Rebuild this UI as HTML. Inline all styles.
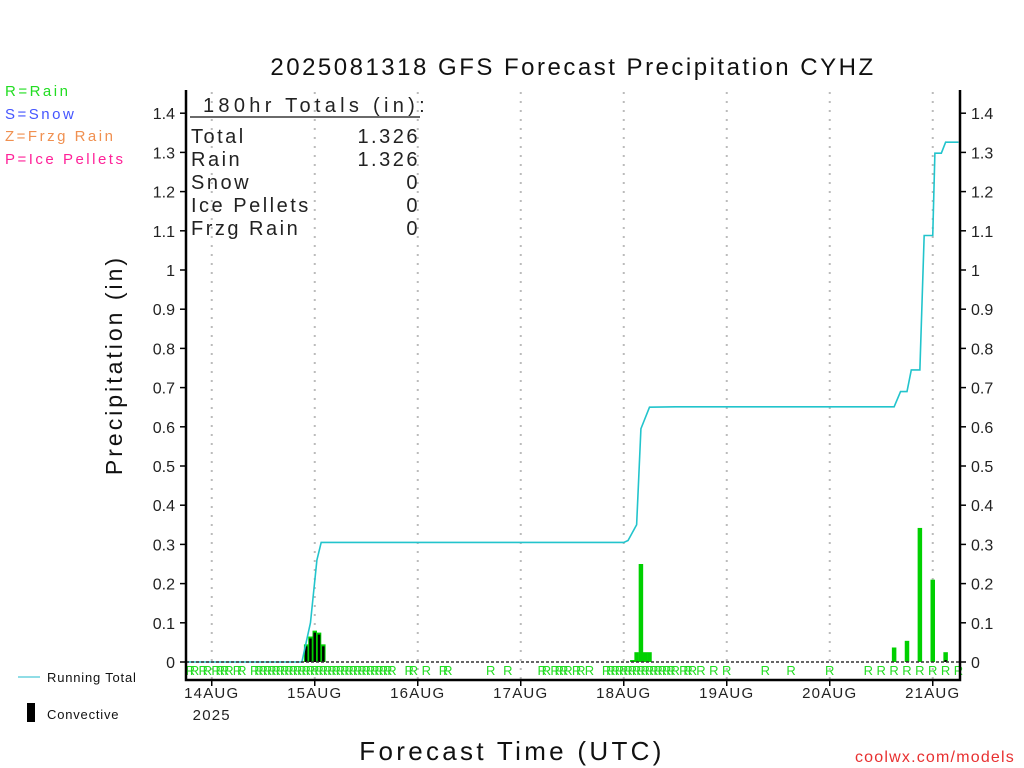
<!DOCTYPE html>
<html><head><meta charset="utf-8"><style>
body{margin:0;background:#fff;width:1024px;height:768px;overflow:hidden}
svg{display:block;font-family:"Liberation Sans",sans-serif}
</style></head><body>
<svg id="c" width="1024" height="768">
<text x="573" y="75" text-anchor="middle" font-size="24" letter-spacing="2.5" fill="#111">2025081318 GFS Forecast Precipitation CYHZ</text>
<g font-size="15" letter-spacing="2.5">
<text x="5" y="96" fill="#22dd22">R=Rain</text>
<text x="5" y="119" fill="#4455ff">S=Snow</text>
<text x="5" y="141" fill="#f09050">Z=Frzg Rain</text>
<text x="5" y="164" fill="#ff2299">P=Ice Pellets</text>
</g>
<text transform="translate(122,365) rotate(-90)" text-anchor="middle" font-size="23" letter-spacing="3" fill="#111">Precipitation (in)</text>
<text x="512" y="760" text-anchor="middle" font-size="26" letter-spacing="3.3" fill="#111">Forecast Time (UTC)</text>
<text x="1015" y="762" text-anchor="end" font-size="16" letter-spacing="1.2" fill="#e83030">coolwx.com/models</text>
<line x1="18" y1="677" x2="40" y2="677" stroke="#22bbcc" stroke-width="1"/>
<text x="47" y="682" font-size="13" letter-spacing="0.8" fill="#111">Running Total</text>
<rect x="27" y="703" width="8" height="19" fill="#000"/>
<text x="47" y="719" font-size="13" letter-spacing="0.8" fill="#111">Convective</text>
<g id="grid"></g><g id="bars"></g><g id="line"></g><g id="rlab"></g><g id="axes"></g>
<g font-size="20" letter-spacing="2.5" fill="#222">
<text x="203" y="112" letter-spacing="4.3">180hr Totals (in):</text>
<line x1="190" y1="117" x2="420" y2="117" stroke="#111" stroke-width="1.3"/>
<text x="191" y="143">Total</text><text x="420" y="143" text-anchor="end">1.326</text>
<text x="191" y="166">Rain</text><text x="420" y="166" text-anchor="end">1.326</text>
<text x="191" y="189">Snow</text><text x="420" y="189" text-anchor="end">0</text>
<text x="191" y="212">Ice Pellets</text><text x="420" y="212" text-anchor="end">0</text>
<text x="191" y="235">Frzg Rain</text><text x="420" y="235" text-anchor="end">0</text>
</g>
</svg>
<script>
const dayLabels=["14AUG","15AUG","16AUG","17AUG","18AUG","19AUG","20AUG","21AUG"];
const yTicks=[0,0.1,0.2,0.3,0.4,0.5,0.6,0.7,0.8,0.9,1,1.1,1.2,1.3,1.4];
const barHours=[28,29,30,31,32,104,105,106,107,108,165,168,171,174,177];
const barValues=[0.045,0.065,0.08,0.075,0.045,0.005,0.025,0.25,0.025,0.025,0.037,0.054,0.342,0.21,0.025];
const convValues=[0.04,0.06,0.075,0.07,0.04,0,0,0,0,0,0,0.002,0,0,0.005];
const totHours=[0,27,29,30.5,31.5,36,102,103,104,105,106,108,114,165,166.5,168,169,171,172,174,174.5,176,177,180];
const totValues=[0,0,0.1,0.26,0.305,0.305,0.305,0.31,0.33,0.35,0.595,0.65,0.651,0.651,0.69,0.69,0.745,0.745,1.088,1.088,1.298,1.298,1.326,1.326];
const rHours=[1,2,4,5,7,8,9,10,12,13,16,17,18,19,20,21,22,23,24,25,26,27,28,29,30,31,32,33,34,35,36,37,38,39,40,41,42,43,44,45,46,47,48,52,53,56,60,61,71,75,83,84,86,87,88,89,91,92,94,98,99,100,101,102,103,104,105,106,107,108,109,110,111,112,113,114,116,117,118,120,123,126,135,141,150,159,162,165,168,171,174,177,180];
const NS="http://www.w3.org/2000/svg";
const X0=186,PX_H=103/24,Y0=662,PX_V=392;
const xOf=h=>X0+h*PX_H, yOf=v=>Y0-v*PX_V;
function mk(t,a,p){const e=document.createElementNS(NS,t);for(const k in a)e.setAttribute(k,a[k]);p.appendChild(e);return e;}
const grid=document.getElementById('grid'),bars=document.getElementById('bars'),line=document.getElementById('line'),rlab=document.getElementById('rlab'),axes=document.getElementById('axes');
dayLabels.forEach((d,i)=>{const x=xOf(6+24*i);
 const g=mk('line',{x1:x,y1:92,x2:x,y2:680,stroke:'#bbb','stroke-width':2,'stroke-dasharray':'2 7'},grid);
 
 
 const tk=mk('line',{x1:x,y1:680,x2:x,y2:686,stroke:'#000','stroke-width':1.5},axes);
 
 
 const t=mk('text',{x:x,y:698,'text-anchor':'middle','font-size':15,'letter-spacing':1.2,fill:'#222'},axes);t.textContent=d;
 
 
});
const yr=mk('text',{x:xOf(6),y:720,'text-anchor':'middle','font-size':15,'letter-spacing':1.2,fill:'#222'},axes);yr.textContent='2025';


yTicks.forEach(v=>{const y=yOf(v);
 [[186,180,175,'end'],[960,966,971,'start']].forEach(([a,b,tx,an])=>{
  const l=mk('line',{x1:a,y1:y,x2:b,y2:y,stroke:'#000','stroke-width':1.5},axes);
  
  
  const t=mk('text',{x:tx,y:y+6,'text-anchor':an,'font-size':16,fill:'#222'},axes);t.textContent=String(v);
  
  
 });
});
const zl=mk('line',{x1:186,y1:Y0,x2:960,y2:Y0,stroke:'#333','stroke-width':1.5,'stroke-dasharray':'3 2'},axes);


const fr=mk('path',{d:'M186 90 V680 H960 V90',fill:'none',stroke:'#000','stroke-width':2.5},axes);


barHours.forEach((h,i)=>{const x=xOf(h),v=barValues[i],w=4.5;
 const b=mk('rect',{x:x-w/2,y:yOf(v),width:w,height:v*PX_V,fill:'#00d000'},bars);
 
 
 if(convValues[i]>0){const c=mk('rect',{x:x-w/2+1,y:yOf(convValues[i]),width:w-2,height:convValues[i]*PX_V,fill:'#000'},bars);
  
  }
});
const pl=mk('polyline',{points:totHours.map((h,i)=>xOf(h)+','+yOf(totValues[i])).join(' '),fill:'none',stroke:'#22c4cc','stroke-width':1.6},line);


rHours.forEach(h=>{const t=mk('text',{x:xOf(h),y:675,'text-anchor':'middle','font-size':13,fill:'#22dd22'},rlab);t.textContent='R';
 
 });
</script>
</body></html>
